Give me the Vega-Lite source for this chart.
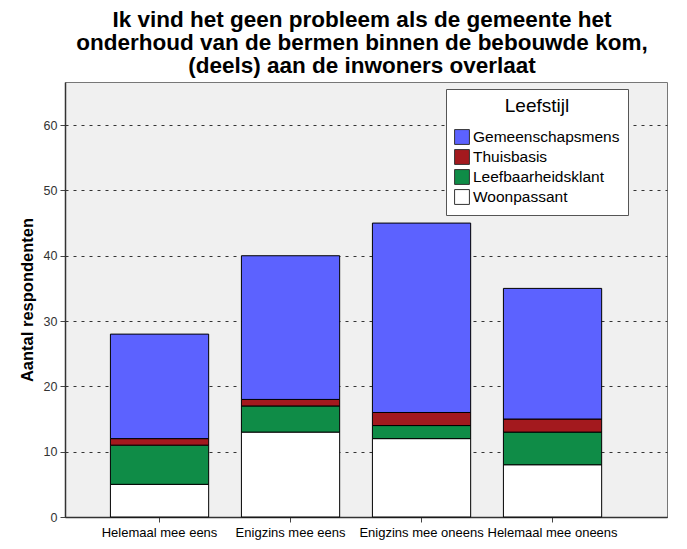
{
  "$schema": "https://vega.github.io/schema/vega-lite/v6.json",
  "width": 602,
  "height": 435,
  "autosize": {"type": "none"},
  "padding": {"left": 65, "top": 82, "right": 20, "bottom": 32},
  "background": "white",
  "title": {
    "text": ["Ik vind het geen probleem als de gemeente het", "onderhoud van de bermen binnen de bebouwde kom,", "(deels) aan de inwoners overlaat"],
    "font": "Liberation Sans",
    "fontSize": 22.5,
    "fontWeight": "bold",
    "lineHeight": 23,
    "color": "black",
    "anchor": "middle",
    "dx": -4,
    "offset": 5
  },
  "config": {
    "view": {"fill": "#f0f0f0", "stroke": "#777777", "strokeWidth": 1},
    "font": "Liberation Sans"
  },
  "data": {
    "values": [
      {"antwoord": "Helemaal mee eens", "leefstijl": "Woonpassant", "volgorde": 1, "aantal": 5},
      {"antwoord": "Helemaal mee eens", "leefstijl": "Leefbaarheidsklant", "volgorde": 2, "aantal": 6},
      {"antwoord": "Helemaal mee eens", "leefstijl": "Thuisbasis", "volgorde": 3, "aantal": 1},
      {"antwoord": "Helemaal mee eens", "leefstijl": "Gemeenschapsmens", "volgorde": 4, "aantal": 16},
      {"antwoord": "Enigzins mee eens", "leefstijl": "Woonpassant", "volgorde": 1, "aantal": 13},
      {"antwoord": "Enigzins mee eens", "leefstijl": "Leefbaarheidsklant", "volgorde": 2, "aantal": 4},
      {"antwoord": "Enigzins mee eens", "leefstijl": "Thuisbasis", "volgorde": 3, "aantal": 1},
      {"antwoord": "Enigzins mee eens", "leefstijl": "Gemeenschapsmens", "volgorde": 4, "aantal": 22},
      {"antwoord": "Enigzins mee oneens", "leefstijl": "Woonpassant", "volgorde": 1, "aantal": 12},
      {"antwoord": "Enigzins mee oneens", "leefstijl": "Leefbaarheidsklant", "volgorde": 2, "aantal": 2},
      {"antwoord": "Enigzins mee oneens", "leefstijl": "Thuisbasis", "volgorde": 3, "aantal": 2},
      {"antwoord": "Enigzins mee oneens", "leefstijl": "Gemeenschapsmens", "volgorde": 4, "aantal": 29},
      {"antwoord": "Helemaal mee oneens", "leefstijl": "Woonpassant", "volgorde": 1, "aantal": 8},
      {"antwoord": "Helemaal mee oneens", "leefstijl": "Leefbaarheidsklant", "volgorde": 2, "aantal": 5},
      {"antwoord": "Helemaal mee oneens", "leefstijl": "Thuisbasis", "volgorde": 3, "aantal": 2},
      {"antwoord": "Helemaal mee oneens", "leefstijl": "Gemeenschapsmens", "volgorde": 4, "aantal": 20}
    ]
  },
  "mark": {"type": "bar", "stroke": "black", "strokeWidth": 1},
  "encoding": {
    "x": {
      "field": "antwoord",
      "type": "nominal",
      "sort": ["Helemaal mee eens", "Enigzins mee eens", "Enigzins mee oneens", "Helemaal mee oneens"],
      "scale": {"paddingInner": 0.25, "paddingOuter": 0.4227, "align": 0.41},
      "axis": {
        "title": null,
        "labelAngle": 0,
        "labelFont": "Liberation Sans",
        "labelFontSize": 13,
        "labelColor": "black",
        "labelPadding": 4,
        "tickColor": "#444444",
        "tickSize": 5,
        "domainColor": "#333333",
        "domainWidth": 1.5,
        "grid": false
      }
    },
    "y": {
      "field": "aantal",
      "type": "quantitative",
      "stack": "zero",
      "scale": {"domain": [0, 66.6], "nice": false},
      "axis": {
        "title": "Aantal respondenten",
        "titleFont": "Liberation Sans",
        "titleFontSize": 16.5,
        "titleFontWeight": "bold",
        "titleColor": "black",
        "titlePadding": 8,
        "values": [0, 10, 20, 30, 40, 50, 60],
        "labelFont": "Liberation Sans",
        "labelFontSize": 12.5,
        "labelColor": "#333333",
        "labelPadding": 3,
        "tickColor": "#444444",
        "tickSize": 5,
        "domainColor": "#333333",
        "domainWidth": 1.5,
        "grid": true,
        "gridColor": "#333333",
        "gridDash": [3, 5],
        "gridWidth": 1
      }
    },
    "color": {
      "field": "leefstijl",
      "type": "nominal",
      "sort": ["Gemeenschapsmens", "Thuisbasis", "Leefbaarheidsklant", "Woonpassant"],
      "scale": {
        "domain": ["Gemeenschapsmens", "Thuisbasis", "Leefbaarheidsklant", "Woonpassant"],
        "range": ["#5c62ff", "#a3191e", "#0f8c47", "#ffffff"]
      },
      "legend": {
        "title": "Leefstijl",
        "orient": "none",
        "legendX": 381,
        "legendY": 7,
        "titleFont": "Liberation Sans",
        "titleFontSize": 19,
        "titleFontWeight": "normal",
        "titleColor": "black",
        "titleAnchor": "middle",
        "titlePadding": 13,
        "labelFont": "Liberation Sans",
        "labelFontSize": 15.5,
        "labelColor": "black",
        "symbolType": "square",
        "symbolSize": 220,
        "symbolStrokeColor": "#333333",
        "symbolStrokeWidth": 1,
        "symbolOpacity": 1,
        "rowPadding": 0,
        "labelOffset": 3,
        "fillColor": "white",
        "strokeColor": "#555555",
        "padding": 8,
        "cornerRadius": 0
      }
    },
    "order": {"field": "volgorde", "type": "quantitative"}
  }
}
